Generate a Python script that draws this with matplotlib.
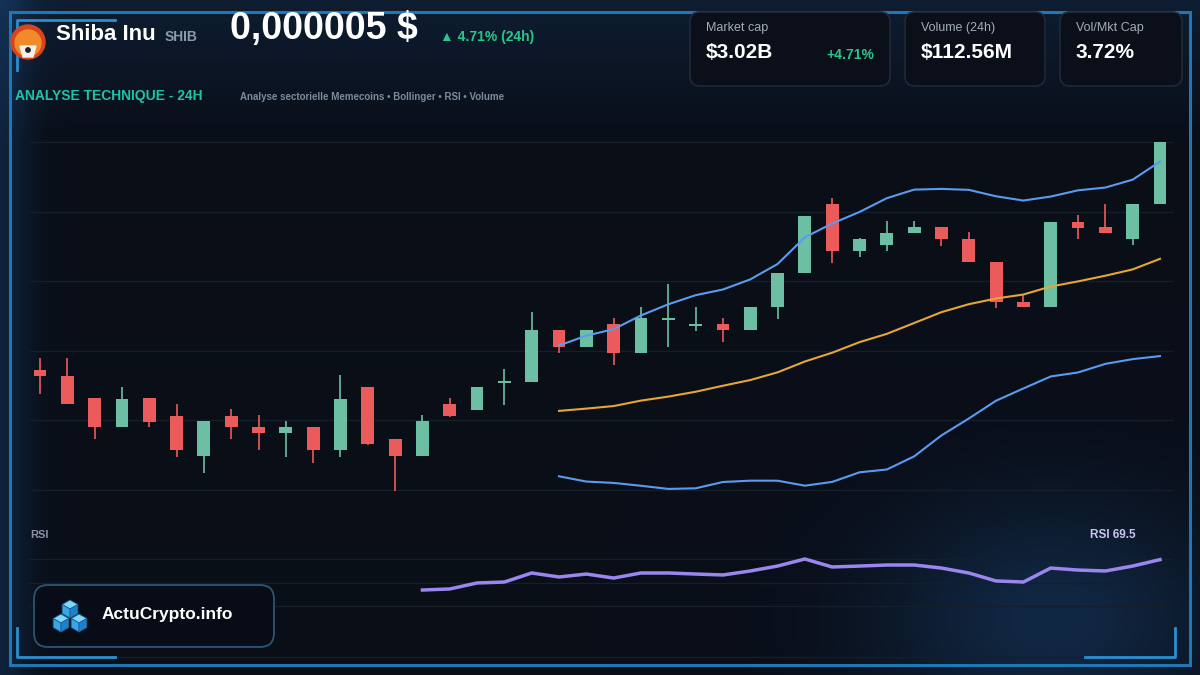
import numpy as np
import pandas as pd
import matplotlib.pyplot as plt
from matplotlib.patches import FancyBboxPatch, Polygon, Circle, Rectangle

plt.rcParams['font.family'] = ['Liberation Sans', 'DejaVu Sans']

# OHLC data (price in 1e-6 $), 42 periods
opens = [4.544, 4.532, 4.488, 4.430, 4.488, 4.452, 4.372, 4.452, 4.430, 4.418,
         4.430, 4.384, 4.510, 4.406, 4.372, 4.476, 4.464, 4.518, 4.520, 4.624,
         4.590, 4.636, 4.578, 4.644, 4.632, 4.636, 4.624, 4.670, 4.738, 4.876,
         4.782, 4.794, 4.818, 4.830, 4.806, 4.760, 4.680, 4.670, 4.840, 4.830,
         4.806, 4.876]
highs = [4.568, 4.568, 4.488, 4.510, 4.488, 4.476, 4.442, 4.466, 4.454, 4.442,
         4.430, 4.534, 4.510, 4.406, 4.454, 4.488, 4.510, 4.546, 4.660, 4.624,
         4.624, 4.648, 4.670, 4.716, 4.670, 4.648, 4.670, 4.738, 4.852, 4.888,
         4.808, 4.842, 4.842, 4.830, 4.820, 4.760, 4.696, 4.840, 4.854, 4.876,
         4.876, 5.000]
lows = [4.496, 4.476, 4.406, 4.430, 4.430, 4.370, 4.338, 4.406, 4.384, 4.370,
        4.358, 4.370, 4.394, 4.302, 4.372, 4.450, 4.464, 4.474, 4.520, 4.578,
        4.590, 4.554, 4.578, 4.590, 4.622, 4.600, 4.624, 4.646, 4.738, 4.758,
        4.770, 4.782, 4.818, 4.792, 4.760, 4.668, 4.670, 4.670, 4.806, 4.818,
        4.794, 4.876]
closes = [4.532, 4.476, 4.430, 4.486, 4.440, 4.384, 4.442, 4.430, 4.418, 4.430,
          4.384, 4.486, 4.396, 4.372, 4.442, 4.452, 4.510, 4.520, 4.624, 4.590,
          4.624, 4.578, 4.648, 4.646, 4.634, 4.624, 4.670, 4.738, 4.852, 4.782,
          4.806, 4.818, 4.830, 4.806, 4.760, 4.680, 4.670, 4.840, 4.828, 4.818,
          4.876, 5.000]

# RSI (14) as shown, from period 14 onwards
rsi_start = 14
rsi_values = [43.6, 44.5, 49.6, 50.4, 58.1, 54.7, 57.2, 53.8, 58.1, 58.1,
              57.2, 56.4, 59.8, 64.0, 70.0, 63.2, 64.0, 64.9, 64.9, 62.3,
              58.1, 51.3, 50.4, 62.3, 60.6, 59.8, 64.0, 69.5]

# Colors
BG = '#0a0f1a'
GREEN = '#6dbfa4'
RED = '#ec5b5b'
BAND = '#5b9bef'
MID = '#e6a537'
RSI_C = '#9a86ee'
GRID = '#151e2b'

W, H = 1200, 675
fig = plt.figure(figsize=(12, 6.75), dpi=100)
fig.patch.set_facecolor(BG)

# ---- background layer in pixel coordinates
bg = fig.add_axes([0, 0, 1, 1])
bg.set_xlim(0, W)
bg.set_ylim(H, 0)
bg.axis('off')

yy, xx = np.mgrid[0:H, 0:W]
base = np.array([0.036, 0.055, 0.094])
top = np.clip(1 - yy / 140, 0, 1)[..., None] * np.array([0.02, 0.06, 0.10])
glow = np.exp(-(((xx - 1050) / 170) ** 2 + ((yy - 620) / 120) ** 2))[..., None] * np.array([0.03, 0.10, 0.17])
left = np.exp(-(xx / 30) ** 2)[..., None] * np.array([0.02, 0.08, 0.14])
img = np.clip(base + top + glow + left, 0, 1)
bg.imshow(img, extent=(0, W, H, 0), aspect='auto', zorder=0)

# outer frame and corner brackets
bg.plot([15, 1175], [657, 657], color=GRID, lw=1, zorder=1)
bg.add_patch(Rectangle((10, 12), 1180, 653, fill=False, ec='#1f78b4', lw=2.2, zorder=2))
bc = '#2a8fd0'
for xs, ys in [([115, 17, 17], [20, 20, 70]), ([1085, 1178, 1178], [20, 20, 70]),
               ([17, 17, 115], [628, 657, 657]), ([1085, 1175, 1175], [657, 657, 628])]:
    bg.plot(xs, ys, color=bc, lw=2, zorder=2)

# header: logo
bg.add_patch(Circle((28, 42), 17, color='#d9441c', zorder=2))
bg.add_patch(Circle((28, 43), 13, color='#f08a2a', zorder=2))
bg.add_patch(Polygon([(20, 46), (36, 46), (33, 57), (23, 57)], color='#f4efe8', zorder=3))
bg.add_patch(Circle((28, 50), 2.2, color='#222222', zorder=4))

bg.text(56, 35, 'Shiba Inu', color='white', fontsize=16, fontweight='bold', va='center', zorder=5)
bg.text(165, 37, 'SHIB', color='#8a9bb0', fontsize=10, fontweight='bold', va='center', zorder=5)
bg.text(230, 29, '0,000005 $', color='white', fontsize=27, fontweight='bold', va='center', zorder=5)
bg.text(440, 37, '▲ 4.71% (24h)', color='#2bc48a', fontsize=10, fontweight='bold', va='center', zorder=5)

# stat cards
cards = [(690, 200, 'Market cap', '$3.02B'), (905, 140, 'Volume (24h)', '$112.56M'),
         (1060, 122, 'Vol/Mkt Cap', '3.72%')]
for x0, w, lab, val in cards:
    bg.add_patch(FancyBboxPatch((x0, 12), w, 74, boxstyle='round,pad=0,rounding_size=10',
                                fc='#0a0f19', ec='#1f2937', lw=1.2, zorder=3))
    bg.text(x0 + 16, 28, lab, color='#a3adba', fontsize=9, va='center', zorder=5)
    bg.text(x0 + 16, 53, val, color='white', fontsize=15, fontweight='bold', va='center', zorder=5)
bg.text(874, 55, '+4.71%', color='#2bc48a', fontsize=10, fontweight='bold', ha='right', va='center', zorder=5)

bg.text(15, 96, 'ANALYSE TECHNIQUE - 24H', color='#1fc4a6', fontsize=10, fontweight='bold', va='center', zorder=5)
bg.text(240, 97, 'Analyse sectorielle Memecoins • Bollinger • RSI • Volume', color='#7d8a9b',
        fontsize=7, fontweight='bold', va='center', zorder=5)

# ---- Bollinger bands (20, 2)
c = pd.Series(closes)
mid = c.rolling(20).mean()
sd = c.rolling(20).std(ddof=0)
upper = mid + 2 * sd
lower = mid - 2 * sd

idx = np.arange(len(closes))
step = 1120 / 41
xlim = (-40 / step, 1160 / step)

# ---- main price axes
ax = fig.add_axes([0, 1 - 500 / H, 1, 370 / H])
ax.set_facecolor('none')
ax.set_xlim(xlim)
ax.set_ylim(5.284 - 0.002 * 500, 5.284 - 0.002 * 130)
ax.axis('off')
for g in np.linspace(4.304, 5.0, 6):
    ax.axhline(g, xmin=30 / W, xmax=1172 / W, color=GRID, lw=1, zorder=1)

o = np.array(opens)
h = np.array(highs)
l = np.array(lows)
cl = np.array(closes)
up = cl >= o
cols = np.where(up, GREEN, RED)
ax.vlines(idx, l, h, colors=cols, lw=1.2, zorder=3)
body = np.maximum(np.abs(cl - o), 0.004)
ax.bar(idx, body, bottom=np.minimum(o, cl), width=0.47, color=cols, zorder=4)

ax.plot(idx, upper, color=BAND, lw=1.5, zorder=5)
ax.plot(idx, lower, color=BAND, lw=1.5, zorder=5)
ax.plot(idx, mid, color=MID, lw=1.5, zorder=5)

# ---- RSI axes
rax = fig.add_axes([0, 1 - 660 / H, 1, 140 / H])
rax.set_facecolor('none')
rax.set_xlim(xlim)
rax.set_ylim(70 - 101 / 1.175, 70 + 39 / 1.175)
rax.axis('off')
for g in [70, 50, 30]:
    rax.axhline(g, xmin=28 / W, xmax=1172 / W, color=GRID, lw=1, zorder=1)
rsi_x = np.arange(rsi_start, rsi_start + len(rsi_values))
rax.plot(rsi_x, rsi_values, color=RSI_C, lw=2.5, zorder=3)

bg.text(30, 535, 'RSI', color='#8a94a3', fontsize=8, fontweight='bold', va='center', zorder=5)
bg.text(1090, 535, f'RSI {rsi_values[-1]:.1f}', color='#c9c6f2', fontsize=8.5, fontweight='bold',
        va='center', zorder=5)

# ---- ActuCrypto badge (drawn over the RSI panel)
top_ax = fig.add_axes([0, 0, 1, 1])
top_ax.set_xlim(0, W)
top_ax.set_ylim(H, 0)
top_ax.axis('off')
top_ax.add_patch(FancyBboxPatch((34, 585), 240, 62, boxstyle='round,pad=0,rounding_size=14',
                                fc='#070c16', ec='#2a5676', lw=1.3))


def cube(cx, cy, s):
    k = 0.87 * s
    top_ax.add_patch(Polygon([(cx, cy - s), (cx + k, cy - s / 2), (cx, cy), (cx - k, cy - s / 2)],
                             fc='#7fd6f7', ec='#1b5f99', lw=0.6))
    top_ax.add_patch(Polygon([(cx - k, cy - s / 2), (cx, cy), (cx, cy + s), (cx - k, cy + s / 2)],
                             fc='#3aa6e6', ec='#1b5f99', lw=0.6))
    top_ax.add_patch(Polygon([(cx, cy), (cx + k, cy - s / 2), (cx + k, cy + s / 2), (cx, cy + s)],
                             fc='#2181c8', ec='#1b5f99', lw=0.6))


cube(70, 609, 9)
cube(61, 623, 9)
cube(79, 623, 9)
top_ax.text(102, 614, 'ActuCrypto.info', color='white', fontsize=12.5, fontweight='bold', va='center')

fig.savefig('out.png', dpi=100, facecolor=fig.get_facecolor())
